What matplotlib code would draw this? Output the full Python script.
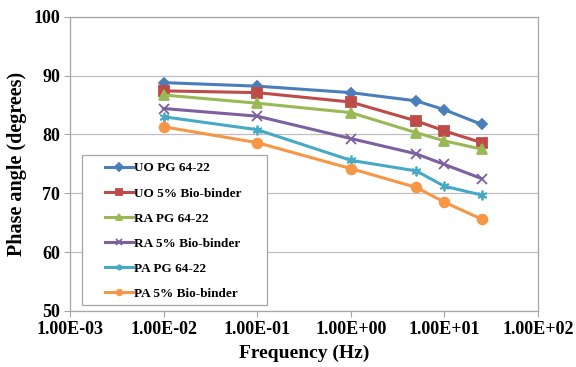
import numpy as np
import matplotlib.pyplot as plt
from matplotlib.patches import Rectangle

# -------------------- Data -------------------- #
freq = [0.01, 0.1, 1, 5, 10, 25]
uo_pg = [88.8, 88.2, 87.1, 85.7, 84.2, 81.7]
uo_bio = [87.4, 87.1, 85.5, 82.3, 80.6, 78.6]
ra_pg = [86.7, 85.3, 83.7, 80.3, 78.9, 77.5]
ra_bio = [84.4, 83.1, 79.3, 76.7, 74.9, 72.5]
pa_pg = [83.0, 80.8, 75.6, 73.8, 71.2, 69.7]
pa_bio = [81.3, 78.6, 74.2, 71.0, 68.5, 65.6]

labels = ["UO PG 64-22", "UO 5% Bio-binder", "RA PG 64-22",
          "RA 5% Bio-binder", "PA PG 64-22", "PA 5% Bio-binder"]
series = [uo_pg, uo_bio, ra_pg, ra_bio, pa_pg, pa_bio]
colors = ["#4A7EBB", "#BE4B48", "#98B954", "#7D60A0", "#46AAC5", "#F79646"]
markers = ["D", "s", "^", "x", (6, 2, 0), "o"]
msizes = [5.5, 6.5, 7, 7, 7, 7]

x_ticks = [1e-3, 1e-2, 1e-1, 1e0, 1e1, 1e2]
x_ticklabels = ["1.00E-03", "1.00E-02", "1.00E-01", "1.00E+00", "1.00E+01", "1.00E+02"]
y_ticks = [50, 60, 70, 80, 90, 100]

plt.rcParams['font.family'] = ['Liberation Serif', 'DejaVu Serif']
plt.rcParams['font.weight'] = 'bold'

# -------------------- Plot -------------------- #
fig = plt.figure(figsize=(5.76, 3.67), dpi=100)
ax = fig.add_axes([0.1215, 0.1526, 0.934 - 0.1215, 0.9545 - 0.1526])

for vals, lab, c, m, ms in zip(series, labels, colors, markers, msizes):
    ax.plot(freq, vals, color=c, marker=m, markersize=ms, linewidth=2.2,
            markeredgewidth=1.3, label=lab)

ax.set_xscale("log")
ax.set_xlim(1e-3, 1e2)
ax.set_ylim(50, 100)
ax.set_xticks(x_ticks)
ax.set_xticklabels(x_ticklabels)
ax.minorticks_off()
ax.set_yticks(y_ticks)
ax.tick_params(labelsize=13, color="#A6A6A6", length=4, width=0.8, pad=3)
ax.grid(axis="y", color="#BFBFBF", linewidth=0.9)
ax.set_axisbelow(True)
for s in ax.spines.values():
    s.set_color("#A6A6A6")
    s.set_linewidth(0.9)

ax.set_xlabel("Frequency (Hz)", fontsize=14, fontweight="bold", labelpad=5)
ax.set_ylabel("Phase angle (degrees)", fontsize=14.5, fontweight="bold", labelpad=5)

# -------------------- Legend -------------------- #
# frame drawn separately to get Excel-like wide side padding
ax.add_patch(Rectangle((0.026, 0.022), 0.395, 0.507, transform=ax.transAxes,
                       facecolor="white", edgecolor="#A6A6A6", linewidth=0.9,
                       zorder=5))
leg = ax.legend(loc="center left", bbox_to_anchor=(0.075, 0.272),
                labelspacing=0.97, handlelength=2.1, handletextpad=0.1,
                frameon=False, borderpad=0, borderaxespad=0,
                prop={"weight": "bold", "size": 9.5})
leg.set_zorder(6)
for h in leg.get_lines():
    h.set_markersize(4)

fig.savefig("out.png", dpi=100)
